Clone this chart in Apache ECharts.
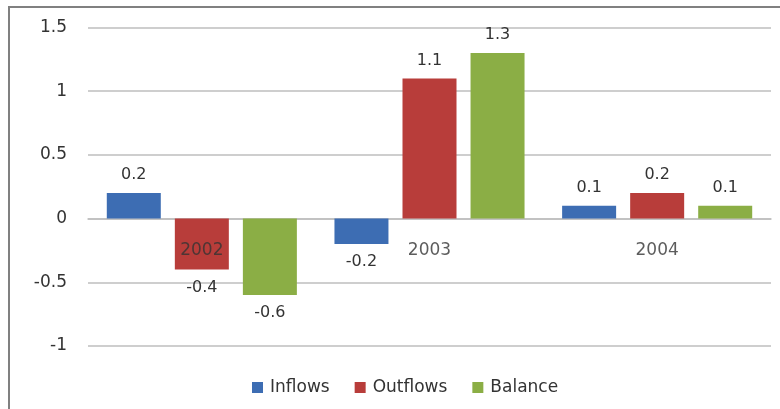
<!DOCTYPE html>
<html>
<head>
<meta charset="utf-8">
<script src="https://cdn.jsdelivr.net/npm/echarts@6/dist/echarts.min.js"></script>
<style>
  html, body { margin: 0; padding: 0; background: #fff; }
  #chart { width: 780px; height: 409px; }
</style>
</head>
<body>
<div id="chart"></div>
<script>
// Capital flows by year (change, percentage points)
const years = ['2002', '2003', '2004'];
const inflows = [0.2, -0.2, 0.1];
const outflows = [-0.4, 1.1, 0.2];
const balance = [-0.6, 1.3, 0.1];
const yTicks = { min: -1, max: 1.5, interval: 0.5 };

const FONT = '"DejaVu Sans", "Noto Sans", sans-serif';
const TEXT = '#333333';

// Positive values get their label above the bar, negative ones below it
function withLabels(values) {
  return values.map(v => ({
    value: v,
    label: { position: v >= 0 ? 'top' : 'bottom' }
  }));
}

function barSeries(name, values, color) {
  return {
    name: name,
    type: 'bar',
    data: withLabels(values),
    barWidth: 54,
    barGap: '26%',
    itemStyle: { color: color },
    label: {
      show: true,
      distance: 10,
      color: TEXT,
      fontFamily: FONT,
      fontSize: 16
    }
  };
}

const chart = echarts.init(document.getElementById('chart'));
chart.setOption({
  animation: false,
  backgroundColor: '#ffffff',
  graphic: [{
    type: 'rect',
    shape: { x: 9, y: 7, width: 820, height: 440 },
    style: { fill: 'none', stroke: '#808080', lineWidth: 2 },
    silent: true
  }],
  grid: { left: 88, right: 9, top: 27.5, bottom: 63 },
  legend: {
    left: 247,
    top: 374,
    itemWidth: 11,
    itemHeight: 11,
    itemGap: 25,
    icon: 'rect',
    textStyle: { color: TEXT, fontFamily: FONT, fontSize: 17, padding: [0, 0, 0, 2] },
    data: ['Inflows', 'Outflows', 'Balance']
  },
  xAxis: {
    type: 'category',
    data: years,
    axisTick: { show: false },
    axisLine: { onZero: true, lineStyle: { color: '#BEBEBE', width: 1.5 } },
    axisLabel: { show: false }
  },
  yAxis: {
    type: 'value',
    min: yTicks.min,
    max: yTicks.max,
    interval: yTicks.interval,
    axisLine: { show: false },
    axisTick: { show: false },
    axisLabel: { color: TEXT, fontFamily: FONT, fontSize: 17, margin: 21 },
    splitLine: { lineStyle: { color: '#BEBEBE', width: 1.5 } }
  },
  series: [
    barSeries('Inflows', inflows, '#3D6DB3'),
    barSeries('Outflows', outflows, '#B83D3A'),
    barSeries('Balance', balance, '#8BAE45'),
    {
      // Year labels sit just under the zero line
      name: 'years',
      type: 'scatter',
      symbolSize: 0,
      silent: true,
      z: 5,
      data: years.map(y => [y, 0]),
      label: {
        show: true,
        position: 'bottom',
        distance: 23,
        formatter: p => p.value[0],
        color: TEXT,
        fontFamily: FONT,
        fontSize: 17
      }
    }
  ]
});
</script>
</body>
</html>
